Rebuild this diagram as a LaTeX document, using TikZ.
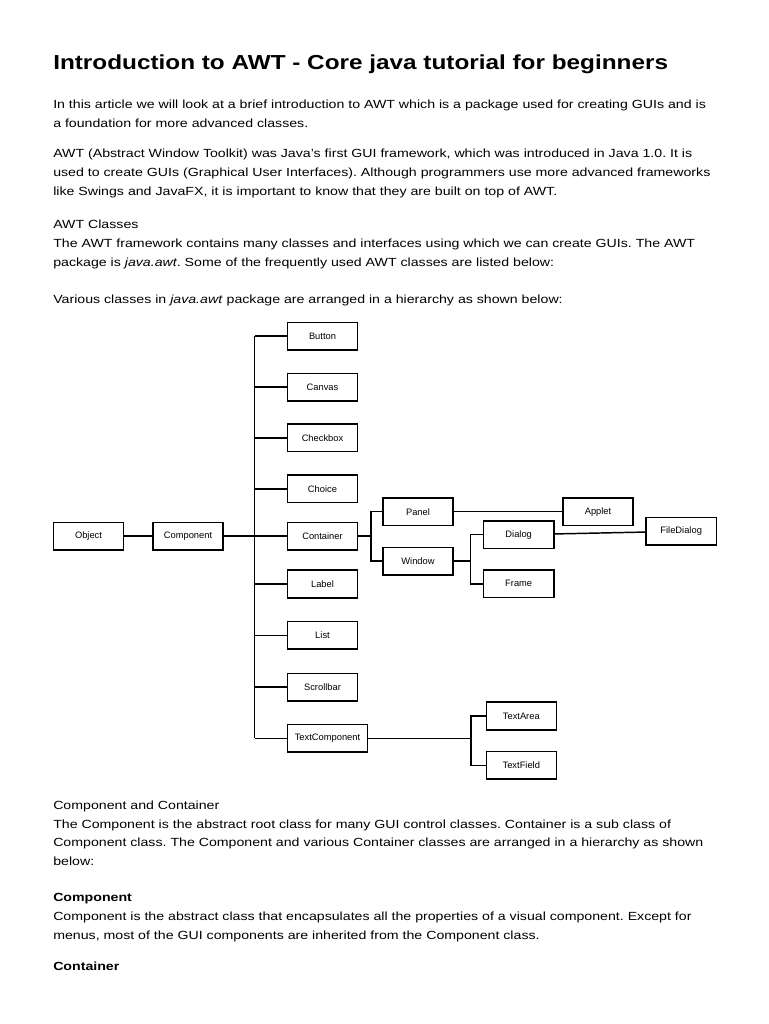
\documentclass[tikz,border=0pt]{standalone}
\usepackage{fontspec}
\setmainfont{Liberation Sans}[FakeStretch=1.2]
\newfontfamily\boxfont{Liberation Sans}
\usetikzlibrary{positioning}

\begin{document}
\frenchspacing
\begin{tikzpicture}[x=0.75pt,y=-0.75pt,
  cls/.style={draw,line width=1.1pt,minimum width=52.6pt,minimum height=20.8pt,inner sep=0pt,
              font=\boxfont\fontsize{7}{8}\selectfont},
  wide/.style={cls,minimum width=60.3pt},
  txt/.style={anchor=base west,inner sep=0pt,font=\fontsize{8.85}{10}\selectfont},
  hd/.style={txt,font=\fontsize{8.85}{10}\selectfont\bfseries},
  link/.style={line width=1.1pt}]
  \useasboundingbox (0,0) rectangle (768,1024);
  \node[txt,font=\fontsize{15.2}{18}\selectfont\bfseries] (title) at (53,69.5) {Introduction to AWT - Core java tutorial for beginners};
  \node[txt] (p1a) at (53,108.3) {In this article we will look at a brief introduction to AWT which is a package used for creating GUIs and is};
  \node[txt] (p1b) at (53,127.3) {a foundation for more advanced classes.};
  \node[txt] (p2a) at (53,157.5) {AWT (Abstract Window Toolkit) was Java's first GUI framework, which was introduced in Java 1.0. It is};
  \node[txt] (p2b) at (53,176.5) {used to create GUIs (Graphical User Interfaces). Although programmers use more advanced frameworks};
  \node[txt] (p2c) at (53,195.7) {like Swings and JavaFX, it is important to know that they are built on top of AWT.};
  \node[txt] (p3a) at (53,228) {AWT Classes};
  \node[txt] (p3b) at (53,247) {The AWT framework contains many classes and interfaces using which we can create GUIs. The AWT};
  \node[txt] (p3c) at (53,266.3) {package is \textit{java.awt}. Some of the frequently used AWT classes are listed below:};
  \node[txt] (p4) at (53,303.3) {Various classes in \textit{java.awt} package are arranged in a hierarchy as shown below:};

  \node[cls] (object) at (88.5,536.2) {Object};
  \node[cls] (component) at (188,536.2) {Component};
  \foreach \n/\t/\y in {button/Button/336.2,canvas/Canvas/387.2,checkbox/Checkbox/437.8,
      choice/Choice/488.8,container/Container/536.2,label/Label/584,list/List/635.3,
      scrollbar/Scrollbar/687.2}
    \node[cls] (\n) at (322.5,\y) {\t};
  \node[wide] (textcomp) at (327.5,738.3) {TextComponent};
  \node[cls] (panel) at (418,511.7) {Panel};
  \node[cls] (window) at (418,561.2) {Window};
  \node[cls] (applet) at (598,511.7) {Applet};
  \node[cls] (dialog) at (518.7,534.7) {Dialog};
  \node[cls] (frame) at (518.7,583.8) {Frame};
  \node[cls] (filedialog) at (681.2,531.3) {FileDialog};
  \node[cls] (textarea) at (521.3,716) {TextArea};
  \node[cls] (textfield) at (521.3,765.3) {TextField};
  \coordinate (trunk) at (254.5,536.2);
  \coordinate (fork1) at (371,536.2);
  \coordinate (fork2) at (470.5,561.2);
  \coordinate (fork3) at (471,738.3);

  \draw[link] (object) -- (component);
  \draw[link] (component) -- (trunk);
  \draw[link] (button -| trunk) -- (textcomp -| trunk);
  \foreach \n in {button,canvas,checkbox,choice,container,label,list,scrollbar,textcomp}
    \draw[link] (\n.west) -- (\n -| trunk);
  \draw[link] (container) -- (fork1);
  \draw[link] (panel.west) -- (panel -| fork1) -- (window -| fork1) -- (window.west);
  \draw[link] (panel) -- (applet);
  \draw[link] (window) -- (fork2);
  \draw[link] (dialog.west) -- (dialog -| fork2) -- (frame -| fork2) -- (frame.west);
  \draw[link] (dialog) -- (filedialog);
  \draw[link] (textcomp) -- (fork3);
  \draw[link] (textarea.west) -- (textarea -| fork3) -- (textfield -| fork3) -- (textfield.west);

  \node[txt] (p5a) at (53,809) {Component and Container};
  \node[txt] (p5b) at (53,828) {The Component is the abstract root class for many GUI control classes. Container is a sub class of};
  \node[txt] (p5c) at (53,846.7) {Component class. The Component and various Container classes are arranged in a hierarchy as shown};
  \node[txt] (p5d) at (53,865.3) {below:};
  \node[hd] (h1) at (53,901.7) {Component};
  \node[txt] (p6a) at (53,920.3) {Component is the abstract class that encapsulates all the properties of a visual component. Except for};
  \node[txt] (p6b) at (53,939) {menus, most of the GUI components are inherited from the Component class.};
  \node[hd] (h2) at (53,970) {Container};
\end{tikzpicture}
\end{document}
